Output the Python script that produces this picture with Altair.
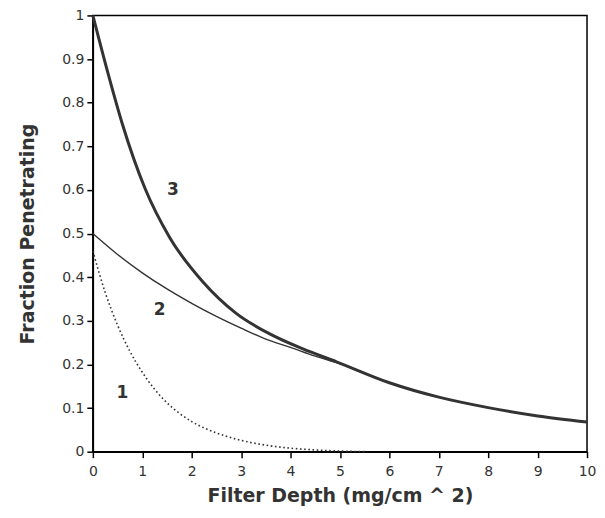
import altair as alt
import pandas as pd

# Curve 3 (thick solid)
x3 = [0, 0.3, 0.6, 1.05, 1.56, 2.22, 2.9, 3.58, 4.24, 4.93, 6.0, 7.0, 8.0, 9.0, 10.0]
y3 = [1.0, 0.87, 0.75, 0.605, 0.49, 0.39, 0.317, 0.27, 0.236, 0.206, 0.158, 0.125, 0.101, 0.082, 0.068]

# Curve 2 (thin solid)
x2 = [0, 0.5, 1.0, 1.5, 2.0, 2.5, 3.0, 3.5, 4.0, 4.5, 5.0, 6.0]
y2 = [0.5, 0.452, 0.41, 0.373, 0.34, 0.31, 0.283, 0.258, 0.239, 0.219, 0.202, 0.157]

# Curve 1 (dotted)
x1 = [0, 0.25, 0.5, 0.75, 1.0, 1.25, 1.5, 1.75, 2.0, 2.5, 3.0, 3.5, 4.0, 4.5, 5.0, 5.5]
y1 = [0.46, 0.365, 0.29, 0.23, 0.182, 0.143, 0.112, 0.088, 0.069, 0.043, 0.026, 0.015, 0.008, 0.004, 0.0015, 0.0]

# Curve labels
lab_text = ["3", "2", "1"]
lab_x = [1.62, 1.35, 0.6]
lab_y = [0.60, 0.325, 0.135]

x_ticks = list(range(0, 11))
y_ticks = [i / 10 for i in range(0, 11)]

d3 = pd.DataFrame({"x": x3, "y": y3})
d2 = pd.DataFrame({"x": x2, "y": y2})
d1 = pd.DataFrame({"x": x1, "y": y1})
dl = pd.DataFrame({"x": lab_x, "y": lab_y, "t": lab_text})

xs = alt.Scale(domain=[0, 10], nice=False)
ys = alt.Scale(domain=[0, 1], nice=False)

xenc = alt.X("x:Q", scale=xs, title="Filter Depth (mg/cm ^ 2)",
             axis=alt.Axis(values=x_ticks, format="d", labelPadding=7, tickSize=6,
                           titlePadding=8, labelFlush=False))
yenc = alt.Y("y:Q", scale=ys, title="Fraction Penetrating",
             axis=alt.Axis(values=y_ticks, format=".1~f", labelPadding=3, tickSize=6,
                           titlePadding=24, labelFlush=False))

ink = "#333333"

c3 = alt.Chart(d3).mark_line(color=ink, strokeWidth=3, interpolate="monotone").encode(x=xenc, y=yenc)
c2 = alt.Chart(d2).mark_line(color=ink, strokeWidth=1.4, interpolate="monotone").encode(x=xenc, y=yenc)
c1 = alt.Chart(d1).mark_line(color=ink, strokeWidth=1.6, strokeDash=[1.6, 2.6], interpolate="monotone").encode(x=xenc, y=yenc)
tl = alt.Chart(dl).mark_text(color=ink, fontSize=17, fontWeight="bold", font="DejaVu Sans").encode(
    x=alt.X("x:Q", scale=xs), y=alt.Y("y:Q", scale=ys), text="t:N")

chart = alt.layer(c2, c1, c3, tl).properties(
    width=495, height=437,
    autosize=alt.AutoSizeParams(type="none"),
    padding={"left": 85, "top": 7, "right": 10, "bottom": 60},
    background="white",
).configure_view(
    stroke="black", strokeWidth=1.5
).configure_axis(
    grid=False,
    domainColor="black", domainWidth=1.5,
    tickColor="black", tickWidth=1.5,
    labelFont="DejaVu Sans", labelFontSize=14, labelColor=ink,
    titleFont="DejaVu Sans", titleFontSize=19, titleFontWeight="bold", titleColor=ink,
)

chart.save("out.html", embed_options={"renderer": "svg", "actions": False})
